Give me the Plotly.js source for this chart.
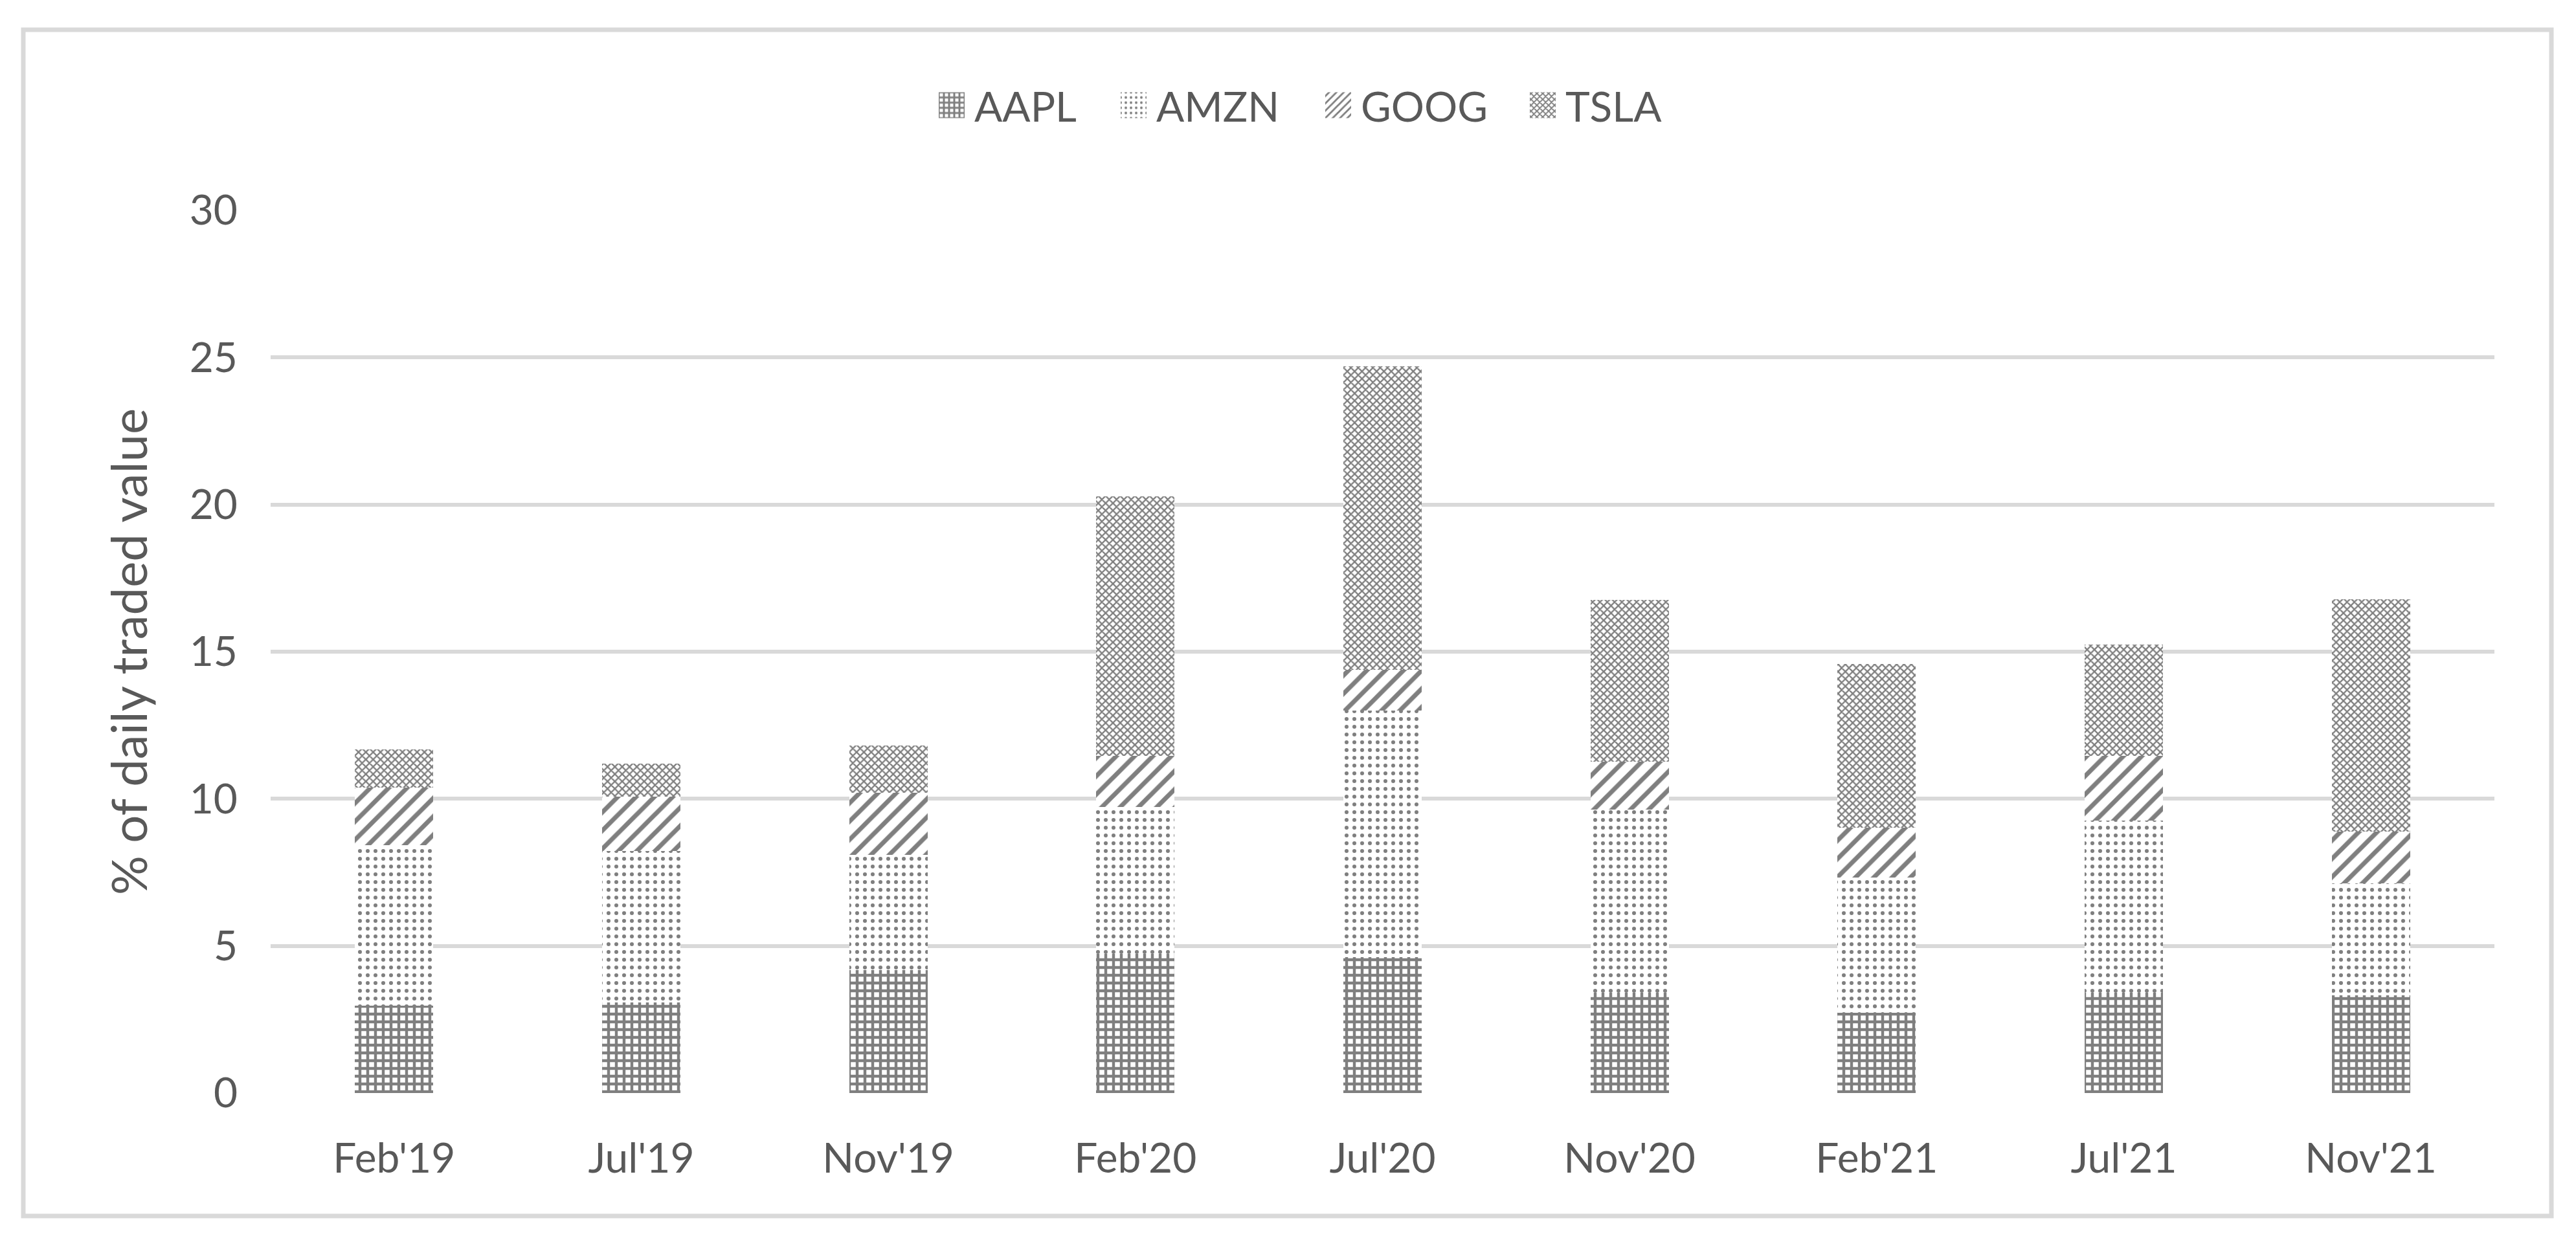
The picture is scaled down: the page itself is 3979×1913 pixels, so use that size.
<!DOCTYPE html>
<html>
<head>
<meta charset="utf-8">
<script src="https://cdn.plot.ly/plotly-3.0.1.min.js"></script>
<style>
  html, body { margin: 0; padding: 0; background: #ffffff; }
  #chart { width: 3979px; height: 1913px; }
</style>
</head>
<body>
<div id="chart"></div>
<script>
// ---- data ----
const categories = ["Feb'19", "Jul'19", "Nov'19", "Feb'20", "Jul'20", "Nov'20", "Feb'21", "Jul'21", "Nov'21"];
const aapl = [2.98, 3.08, 4.18, 4.73, 4.61, 3.40, 2.72, 3.41, 3.32];
const amzn = [5.45, 5.14, 3.91, 5.00, 8.39, 6.23, 4.61, 5.85, 3.80];
const goog = [1.95, 1.86, 2.12, 1.73, 1.39, 1.63, 1.69, 2.20, 1.77];
const tsla = [1.30, 1.12, 1.61, 8.82, 10.31, 5.49, 5.57, 3.78, 7.89];
const seriesNames = ["AAPL", "AMZN", "GOOG", "TSLA"];
const yTicks = [0, 5, 10, 15, 20, 25, 30];
const yTitle = "% of daily traded value";

// ---- styles ----
const FG = "#7f7f7f";
const TEXT = "#595959";
const GRID = "#d9d9d9";
const FONT = "Lato, 'Open Sans', sans-serif";
const patterns = [
  { shape: "+", size: 12, solidity: 0.6 },
  { shape: ".", size: 12, solidity: 0.2 },
  { shape: "/", size: 20, solidity: 0.35 },
  { shape: "x", size: 8, solidity: 0.5 }
];

const L = 418, R = 3853, T = 325, B = 1689, W = 3979, H = 1913;
const pw = R - L, ph = B - T;
const px = x => (x - L) / pw;
const py = y => (B - y) / ph;

// legend text start positions in the reference (pixels)
const legendTextX = [1510, 1791, 2107, 2423];
const legendIds = ["legend", "legend2", "legend3", "legend4"];

const values = [aapl, amzn, goog, tsla];
const traces = values.map((v, i) => ({
  type: "bar",
  name: seriesNames[i],
  legend: legendIds[i],
  x: categories,
  y: v,
  marker: {
    color: "#ffffff",
    line: { width: 0 },
    pattern: Object.assign({ fgcolor: FG, bgcolor: "#ffffff", fgopacity: 1, fillmode: "replace" }, patterns[i])
  },
  hoverinfo: "skip"
}));

const layout = {
  width: W, height: H,
  margin: { l: L, r: W - R, t: T, b: H - B, pad: 0 },
  paper_bgcolor: "#ffffff",
  plot_bgcolor: "#ffffff",
  barmode: "stack",
  bargap: 0.683,
  font: { family: FONT, color: TEXT, size: 64 },
  showlegend: true,
  xaxis: {
    type: "category",
    showgrid: false,
    showline: false,
    zeroline: false,
    ticks: "",
    ticklabelstandoff: 58,
    tickfont: { family: FONT, color: TEXT, size: 64 }
  },
  yaxis: {
    range: [0, 30],
    tickvals: yTicks,
    ticktext: yTicks.map(String),
    showgrid: true,
    gridcolor: GRID,
    gridwidth: 6,
    zeroline: false,
    showline: false,
    ticks: "",
    ticklabelstandoff: 50,
    tickfont: { family: FONT, color: TEXT, size: 64 },
    title: { text: yTitle, font: { family: FONT, color: TEXT, size: 76 }, standoff: 40 }
  },
  shapes: [{
    type: "rect", xref: "paper", yref: "paper",
    x0: px(36), x1: px(3941), y0: py(1879), y1: py(46),
    line: { color: GRID, width: 7 },
    fillcolor: "rgba(0,0,0,0)",
    layer: "below"
  }]
};

legendIds.forEach((id, i) => {
  layout[id] = {
    orientation: "h",
    x: px(legendTextX[i] - 75), xanchor: "left",
    y: py(163), yanchor: "middle",
    font: { family: FONT, color: TEXT, size: 64 },
    itemwidth: 60,
    bgcolor: "rgba(0,0,0,0)",
    borderwidth: 0
  };
});

Plotly.newPlot("chart", traces, layout, { staticPlot: true, displayModeBar: false }).then(gd => {
  // enlarge the legend swatches to match the reference's big pattern squares
  gd.querySelectorAll(".legendpoints path").forEach(p => {
    p.setAttribute("d", "M20,20H-20V-20H20Z");
  });
});
</script>
</body>
</html>
